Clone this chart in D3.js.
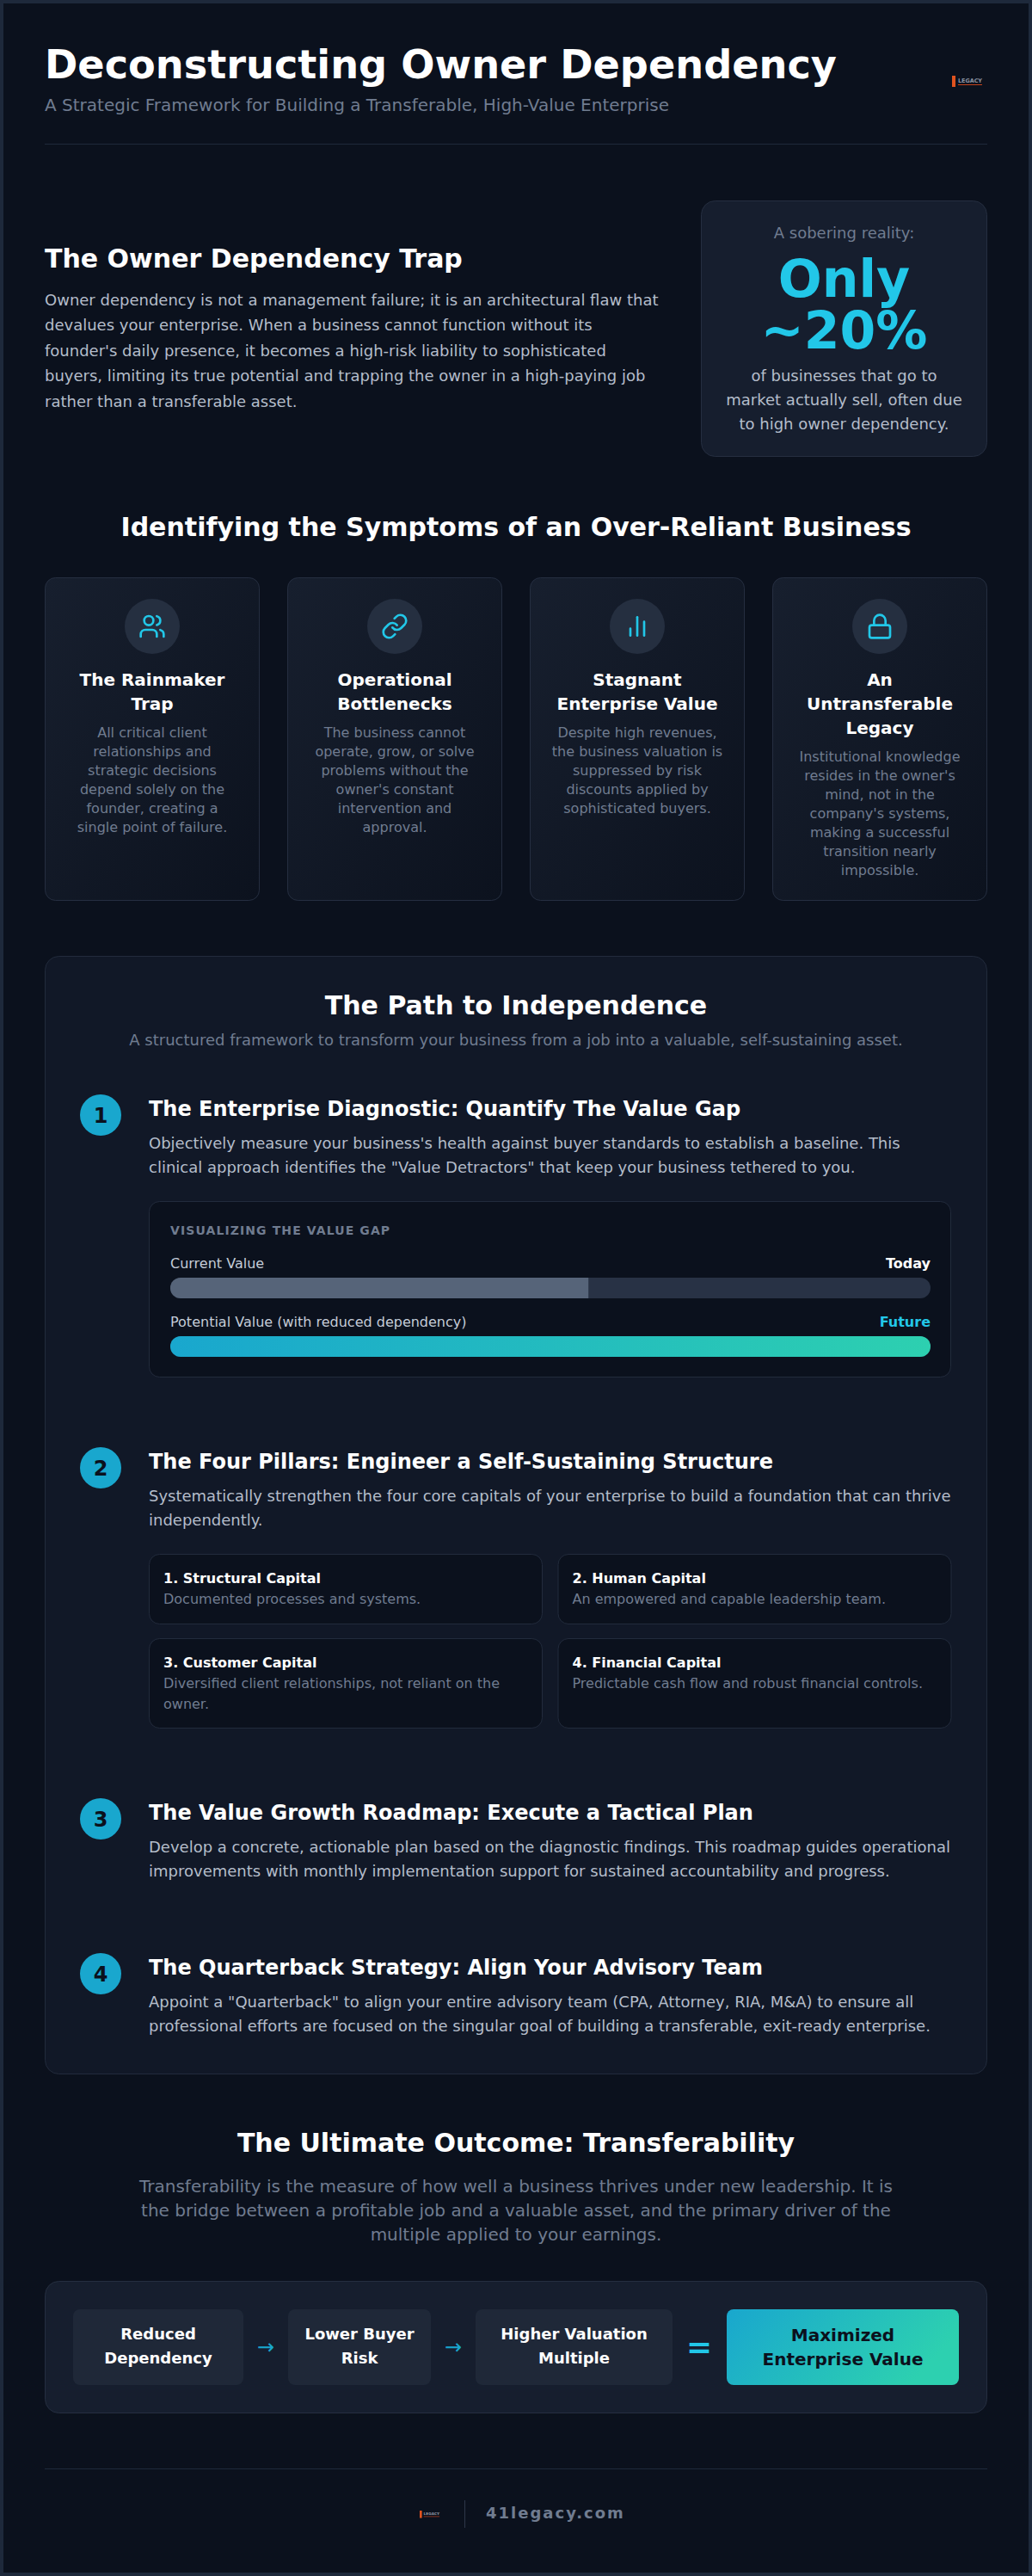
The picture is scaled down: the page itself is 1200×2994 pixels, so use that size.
<!DOCTYPE html>
<html><head><meta charset="utf-8">
<script src="https://cdn.jsdelivr.net/npm/d3@7/dist/d3.min.js"></script>
<style>html,body{margin:0;padding:0;background:#0b111d}svg{display:block}text{font-family:"DejaVu Sans",sans-serif}</style>
</head><body><div id="chart"></div>
<script>
const pageTitle = "Deconstructing Owner Dependency";
const pageSubtitle = "A Strategic Framework for Building a Transferable, High-Value Enterprise";
const trapTitle = "The Owner Dependency Trap";
const trapLines = ["Owner dependency is not a management failure; it is an architectural flaw that","devalues your enterprise. When a business cannot function without its","founder's daily presence, it becomes a high-risk liability to sophisticated","buyers, limiting its true potential and trapping the owner in a high-paying job","rather than a transferable asset."];
const statIntro = "A sobering reality:";
const statBig = ["Only","~20%"];
const statLines = ["of businesses that go to","market actually sell, often due","to high owner dependency."];
const symptomsTitle = "Identifying the Symptoms of an Over-Reliant Business";
const symptomNames = [["The Rainmaker","Trap"],["Operational","Bottlenecks"],["Stagnant","Enterprise Value"],["An","Untransferable","Legacy"]];
const symptomText = [
 ["All critical client","relationships and","strategic decisions","depend solely on the","founder, creating a","single point of failure."],
 ["The business cannot","operate, grow, or solve","problems without the","owner's constant","intervention and","approval."],
 ["Despite high revenues,","the business valuation is","suppressed by risk","discounts applied by","sophisticated buyers."],
 ["Institutional knowledge","resides in the owner's","mind, not in the","company's systems,","making a successful","transition nearly","impossible."]];
const pathTitle = "The Path to Independence";
const pathSub = "A structured framework to transform your business from a job into a valuable, self-sustaining asset.";
const stepTitles = ["The Enterprise Diagnostic: Quantify The Value Gap","The Four Pillars: Engineer a Self-Sustaining Structure","The Value Growth Roadmap: Execute a Tactical Plan","The Quarterback Strategy: Align Your Advisory Team"];
const stepText = [
 ["Objectively measure your business's health against buyer standards to establish a baseline. This","clinical approach identifies the \"Value Detractors\" that keep your business tethered to you."],
 ["Systematically strengthen the four core capitals of your enterprise to build a foundation that can thrive","independently."],
 ["Develop a concrete, actionable plan based on the diagnostic findings. This roadmap guides operational","improvements with monthly implementation support for sustained accountability and progress."],
 ["Appoint a \"Quarterback\" to align your entire advisory team (CPA, Attorney, RIA, M&A) to ensure all","professional efforts are focused on the singular goal of building a transferable, exit-ready enterprise."]];
const gapTitle = "VISUALIZING THE VALUE GAP";
const gapLabels = ["Current Value","Potential Value (with reduced dependency)"];
const gapTags = ["Today","Future"];
const gapValues = [55,100];
const pillarNames = ["1. Structural Capital","2. Human Capital","3. Customer Capital","4. Financial Capital"];
const pillarText = [["Documented processes and systems."],["An empowered and capable leadership team."],["Diversified client relationships, not reliant on the","owner."],["Predictable cash flow and robust financial controls."]];
const outcomeTitle = "The Ultimate Outcome: Transferability";
const outcomeLines = ["Transferability is the measure of how well a business thrives under new leadership. It is","the bridge between a profitable job and a valuable asset, and the primary driver of the","multiple applied to your earnings."];
const equationTerms = [["Reduced","Dependency"],["Lower Buyer","Risk"],["Higher Valuation","Multiple"]];
const equationResult = ["Maximized","Enterprise Value"];
const footerSite = "41legacy.com";

const W=1200,H=2994;
const C={bg:"#0b111d",panel:"#111827",card:"#161e2e",border:"#252e40",white:"#ffffff",body:"#b4bdca",muted:"#707c90",cyan:"#22c7e8",teal:"#19a7ce",dark:"#0b111d"};
const svg=d3.select("#chart").append("svg").attr("width",W).attr("height",H).attr("viewBox",`0 0 ${W} ${H}`);
const defs=svg.append("defs");
function grad(id,a,b,x2,y2){const g=defs.append("linearGradient").attr("id",id).attr("x1",0).attr("y1",0).attr("x2",x2).attr("y2",y2);g.append("stop").attr("offset",0).attr("stop-color",a);g.append("stop").attr("offset",1).attr("stop-color",b);}
grad("barGrad","#19a7ce","#2dd0b0",1,0);
grad("resGrad","#19a7ce","#2dd0b0",1,0.3);
grad("cardGrad","#171f2e","#0c121e",1,1);

function rect(x,y,w,h,r,fill,stroke){return svg.append("rect").attr("x",x+(stroke?.5:0)).attr("y",y+(stroke?.5:0)).attr("width",w-(stroke?1:0)).attr("height",h-(stroke?1:0)).attr("rx",r).attr("fill",fill).attr("stroke",stroke||"none");}
function text(s,x,y,size,fill,opt={}){return svg.append("text").attr("x",x).attr("y",y).attr("font-size",size).attr("fill",fill).attr("font-weight",opt.bold?700:400).attr("text-anchor",opt.anchor||"start").attr("letter-spacing",opt.ls||null).text(s);}
function lines(arr,x,y,step,size,fill,opt){arr.forEach((s,i)=>text(s,x,y+i*step,size,fill,opt));}

// frame
rect(0,0,W,H,0,"#1e293b");
rect(4,4,W-8,H-8,0,C.bg);

// header
text(pageTitle,52,91,46.2,C.white,{bold:true});
text(pageSubtitle,52,129,20,C.muted);
rect(52,167,1096,1,0,"#1e293b");
function logo(x,y,s){
  rect(x,y,4*s,13*s,0,"#e0531f");
  text("LEGACY",x+7*s,y+8*s,6.4*s,"#8d95a3",{bold:true});
  rect(x+7*s,y+10*s,28*s,1*s,0,"#c2431c");
}
logo(1107,88,1);

// trap
text(trapTitle,52,311,30,C.white,{bold:true});
lines(trapLines,52,355,29.4,18,C.body);

// stat
rect(815,233,333,298,16,C.card,C.border);
text(statIntro,981.5,277,18,C.muted,{anchor:"middle"});
lines(statBig,981.5,345,60,60,C.cyan,{bold:true,anchor:"middle"});
lines(statLines,981.5,443,28,18,C.body,{anchor:"middle"});

// symptoms
text(symptomsTitle,600,623,30,C.white,{bold:true,anchor:"middle"});
const cardX=d3.scaleBand().domain(d3.range(4)).range([52,1148]).paddingInner(32/282).paddingOuter(0);
const icons=[
 g=>{g.append("circle").attr("cx",9).attr("cy",7).attr("r",4);g.append("path").attr("d","M2 21v-2a4 4 0 0 1 4-4h6a4 4 0 0 1 4 4v2");g.append("path").attr("d","M16 3.13a4 4 0 0 1 0 7.75");g.append("path").attr("d","M22 21v-2a4 4 0 0 0-3-3.87");},
 g=>{g.append("path").attr("d","M10 13a5 5 0 0 0 7.54.54l3-3a5 5 0 0 0-7.07-7.07l-1.72 1.71");g.append("path").attr("d","M14 11a5 5 0 0 0-7.54-.54l-3 3a5 5 0 0 0 7.07 7.07l1.71-1.71");},
 g=>{g.append("path").attr("d","M12 20V4");g.append("path").attr("d","M18 20V8");g.append("path").attr("d","M6 20v-6");},
 g=>{g.append("rect").attr("x",3).attr("y",11).attr("width",18).attr("height",11).attr("rx",2);g.append("path").attr("d","M7 11V7a5 5 0 0 1 10 0v4");}
];
symptomNames.forEach((nm,i)=>{
  const x=cardX(i),cx=x+cardX.bandwidth()/2;
  rect(x,671,cardX.bandwidth(),376,12,"url(#cardGrad)",C.border);
  svg.append("circle").attr("cx",cx).attr("cy",728).attr("r",32).attr("fill","#252f40");
  const g=svg.append("g").attr("transform",`translate(${cx-16},${712}) scale(1.3333)`).attr("fill","none").attr("stroke",C.cyan).attr("stroke-width",2).attr("stroke-linecap","round").attr("stroke-linejoin","round");
  icons[i](g);
  lines(nm,cx,797,28,20,C.white,{bold:true,anchor:"middle"});
  lines(symptomText[i],cx,797+nm.length*28+4,22,16,C.muted,{anchor:"middle"});
});

// path panel
rect(52,1111,1096,1300,16,C.panel,"#222b3c");
text(pathTitle,600,1179,30,C.white,{bold:true,anchor:"middle"});
text(pathSub,600,1215,18,C.muted,{anchor:"middle"});
const stepY=[1296,1706,2114,2294];
stepTitles.forEach((t,i)=>{
  svg.append("circle").attr("cx",117).attr("cy",stepY[i]).attr("r",24).attr("fill",C.teal);
  text(i+1,117,stepY[i]+8.5,24,C.dark,{bold:true,anchor:"middle"});
  text(t,173,stepY[i]+1,24,C.white,{bold:true});
  lines(stepText[i],173,stepY[i]+39,28,18,C.body);
});

// gap box
rect(173,1396,933,205,12,C.bg,"#222b3c");
text(gapTitle,198,1435,14,C.muted,{bold:true,ls:"1.1px"});
const gapX=d3.scaleLinear().domain([0,100]).range([198,1082]);
const gapLabelY=[1474,1542],gapBarY=[1485,1553];
gapValues.forEach((v,i)=>{
  text(gapLabels[i],198,gapLabelY[i],16,"#c4ccd8");
  text(gapTags[i],1082,gapLabelY[i],16,i?C.cyan:C.white,{bold:true,anchor:"end"});
  const cid="barClip"+i;
  defs.append("clipPath").attr("id",cid).append("rect").attr("x",gapX(0)).attr("y",gapBarY[i]).attr("width",gapX(100)-gapX(0)).attr("height",24).attr("rx",12);
  rect(gapX(0),gapBarY[i],gapX(100)-gapX(0),24,12,"#283245");
  svg.append("rect").attr("clip-path",`url(#${cid})`).attr("x",gapX(0)).attr("y",gapBarY[i]).attr("width",gapX(v)-gapX(0)).attr("height",24).attr("fill",i?"url(#barGrad)":"#566479");
});

// pillars
const pX=[173,648.5],pW=458,pY=[1806,1904],pH=[82,105];
pillarNames.forEach((n,i)=>{
  const c=i%2,r=i>>1;
  rect(pX[c],pY[r],pW,pH[r],12,C.bg,"#222b3c");
  text(n,pX[c]+17,pY[r]+34,16,C.white,{bold:true});
  lines(pillarText[i],pX[c]+17,pY[r]+58,24,16,C.muted);
});

// outcome
text(outcomeTitle,600,2501,30,C.white,{bold:true,anchor:"middle"});
lines(outcomeLines,600,2548,28,20,C.muted,{anchor:"middle"});
rect(52,2651,1096,154,16,C.card,"#252e40");
const termX=[85,335,553],termW=[198,166,229];
equationTerms.forEach((t,i)=>{
  rect(termX[i],2684,termW[i],88,8,"#1f2838");
  lines(t,termX[i]+termW[i]/2,2719,28.4,18,C.white,{bold:true,anchor:"middle"});
});
[309,527].forEach(x=>text("→",x,2736,24,C.teal,{anchor:"middle"}));
text("=",813,2740,36,C.cyan,{bold:true,anchor:"middle"});
rect(845,2684,270,88,8,"url(#resGrad)");
lines(equationResult,980,2721,28,20,C.dark,{bold:true,anchor:"middle"});

// footer
rect(52,2869,1096,1,0,"#1e293b");
logo(488,2918,0.66);
rect(540,2906,1,32,0,"#2d3749");
text(footerSite,565,2927,18,C.muted,{bold:true,ls:"2px"});
</script></body></html>
